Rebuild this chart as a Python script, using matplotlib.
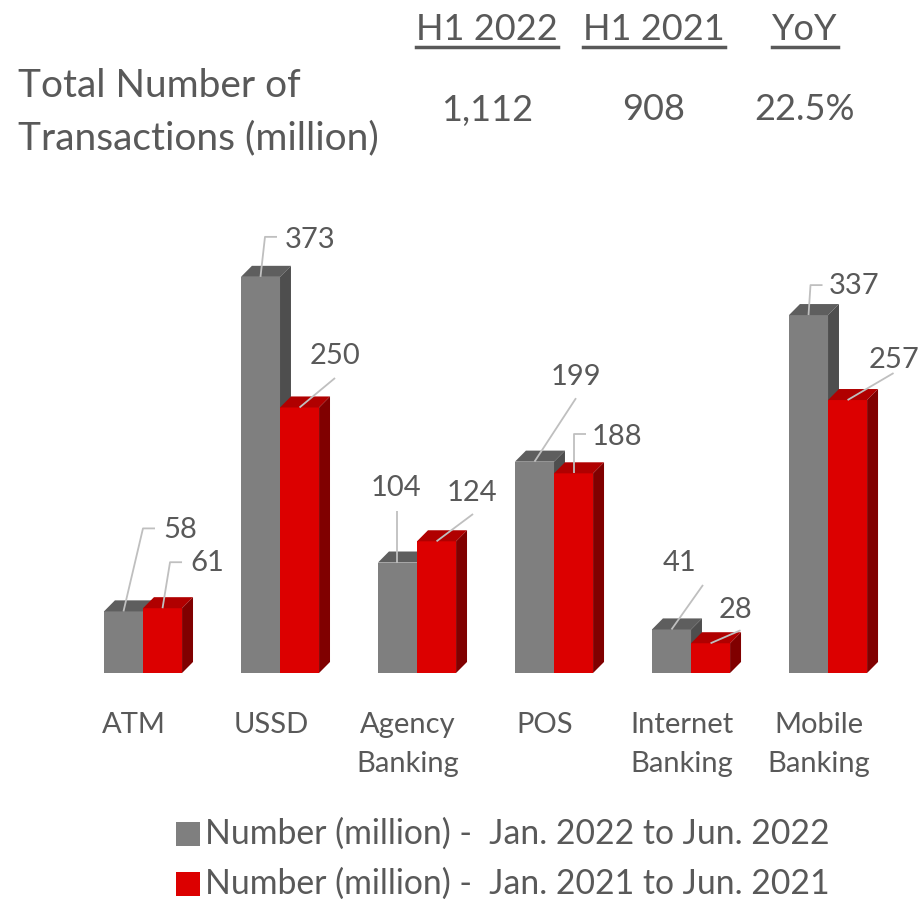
import matplotlib
matplotlib.use("Agg")
import matplotlib.pyplot as plt
from matplotlib.patches import Polygon, Rectangle
from matplotlib.transforms import IdentityTransform

# ---- data ----
categories = ["ATM", "USSD", "Agency\nBanking", "POS", "Internet\nBanking", "Mobile\nBanking"]
h1_2022 = [58, 373, 104, 199, 41, 337]
h1_2021 = [61, 250, 124, 188, 28, 257]
series_names = ["Number (million) -  Jan. 2022 to Jun. 2022",
                "Number (million) -  Jan. 2021 to Jun. 2021"]
table_headers = ["H1 2022", "H1 2021", "YoY"]
table_row_label = "Total Number of\nTransactions (million)"
table_values = ["1,112", "908", "22.5%"]

# ---- style ----
FONT = "Lato"
TEXT = "#595959"
LEADER = "#bfbfbf"
GRAY = dict(front="#7f7f7f", top="#5e5e5e", side="#4e4e4e")
RED = dict(front="#dc0000", top="#b00000", side="#800000")

W, H, DPI = 919, 899, 100
fig = plt.figure(figsize=(W / DPI, H / DPI), dpi=DPI)
ax = fig.add_axes([0, 0, 1, 1])
ax.set_xlim(-1.0438, 5.664)
ax.set_ylim(-212.8, 633.7)
ax.axis("off")

bar_w = 0.285          # width of one front face (category units)
depth_x = 0.080        # 3-D depth offset, x
depth_y = 10.4         # 3-D depth offset, y (value units)


def bar3d(x0, v, colors):
    x1 = x0 + bar_w
    ax.add_patch(Rectangle((x0, 0), bar_w, v, facecolor=colors["front"], edgecolor="none", zorder=2))
    ax.add_patch(Polygon([(x0, v), (x0 + depth_x, v + depth_y), (x1 + depth_x, v + depth_y), (x1, v)],
                         closed=True, facecolor=colors["top"], edgecolor="none", zorder=2))
    ax.add_patch(Polygon([(x1, 0), (x1 + depth_x, depth_y), (x1 + depth_x, v + depth_y), (x1, v)],
                         closed=True, facecolor=colors["side"], edgecolor="none", zorder=2))


# leader-line paths and label centres, in pixel offsets from the bar's front-top centre
gray_leaders = [
    ([(0, 0), (19.5, 83), (31.5, 83)], (56.5, 81)),
    ([(0, 0), (4.5, 40), (16.5, 40)], (49.5, 37)),
    ([(0, 0), (0, 52)], (-1.5, 75)),
    ([(0, 0), (41.5, 63.5)], (41.5, 85)),
    ([(0, 0), (31.5, 44.5)], (8.5, 66.5)),
    ([(0, 0), (2, 30), (14, 30)], (45.5, 29)),
]
red_leaders = [
    ([(0, 0), (7.5, 46), (19.5, 46)], (44.5, 45)),
    ([(0, 0), (35.5, 29.5)], (35.5, 51.5)),
    ([(0, 0), (36.5, 27.3)], (35.5, 48.3)),
    ([(0, 0), (0, 39), (12, 39)], (43.5, 36.3)),
    ([(0, 0), (30, 13)], (24.5, 33.3)),
    ([(0, 0), (46, 27)], (46, 40)),
]

for i in range(len(categories)):
    bar3d(i - bar_w, h1_2022[i], GRAY)
    bar3d(i, h1_2021[i], RED)

fig.canvas.draw()
ident = IdentityTransform()
for i in range(len(categories)):
    for x_anchor, v, (path, txt) in ((i - bar_w / 2, h1_2022[i], gray_leaders[i]),
                                     (i + bar_w / 2, h1_2021[i], red_leaders[i])):
        ax_px, ay_px = ax.transData.transform((x_anchor, v))
        xs = [ax_px + p[0] for p in path]
        ys = [ay_px + p[1] for p in path]
        ax.plot(xs, ys, color=LEADER, lw=1.3, transform=ident, zorder=3, solid_capstyle="butt")
        ax.text(ax_px + txt[0], ay_px + txt[1], f"{v}", transform=ident, ha="center", va="center",
                fontsize=21, color=TEXT, family=FONT, zorder=4)

# category labels
for i, c in enumerate(categories):
    ax.text(i - 0.066, -36.5, c, ha="center", va="top", fontsize=21, color=TEXT,
            family=FONT, linespacing=1.62)

# legend
for k, (name, col) in enumerate(zip(series_names, [GRAY["front"], RED["front"]])):
    y = H - 834 - 50 * k
    fig.patches.append(Rectangle((176 / W, (y - 12) / H), 24 / W, 24 / H, transform=fig.transFigure,
                                 facecolor=col, edgecolor="none"))
    fig.text(205 / W, y / H, name, ha="left", va="center", fontsize=24.3, color=TEXT, family=FONT)

# summary table at the top
col_x = [487, 654, 805]
for hx, hdr, val in zip(col_x, table_headers, table_values):
    t = fig.text(hx / W, (H - 30) / H, hdr, ha="center", va="center", fontsize=26, color=TEXT, family=FONT)
    fig.text(hx / W, (H - 110) / H, val, ha="center", va="center", fontsize=26, color=TEXT, family=FONT)
    bb = t.get_window_extent(renderer=fig.canvas.get_renderer())
    fig.add_artist(plt.Line2D([bb.x0, bb.x1], [H - 47, H - 47], transform=ident, color=TEXT, lw=2.5))
fig.text(18 / W, (H - 112) / H, table_row_label, ha="left", va="center", fontsize=28, color=TEXT,
         family=FONT, linespacing=1.55)

fig.savefig("out.png", dpi=DPI)
